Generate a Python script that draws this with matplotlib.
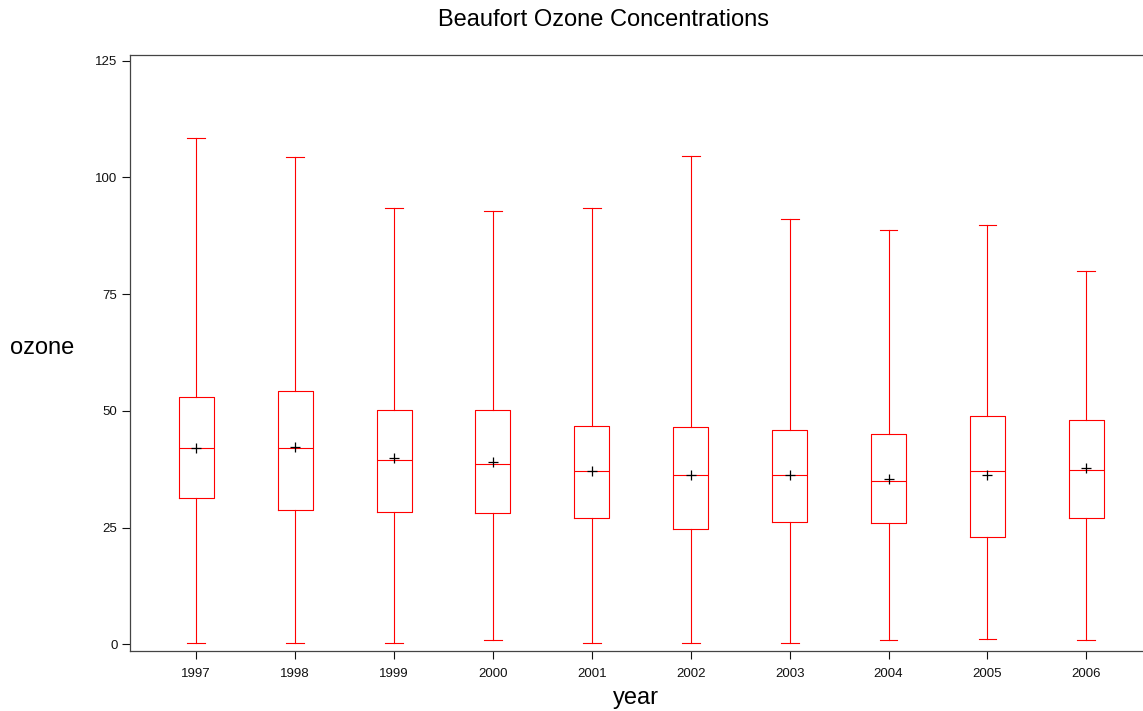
import matplotlib
matplotlib.use('Agg')
import matplotlib.pyplot as plt

plt.rcParams['font.family'] = ['Liberation Sans', 'DejaVu Sans']

# box statistics
years = [1997, 1998, 1999, 2000, 2001, 2002, 2003, 2004, 2005, 2006]
whisker_low = [0.3, 0.3, 0.3, 0.9, 0.3, 0.3, 0.3, 1.0, 1.1, 1.0]
q1 = [31.4, 28.8, 28.3, 28.1, 27.1, 24.6, 26.3, 25.9, 22.9, 27.0]
median = [42.0, 42.0, 39.5, 38.6, 37.1, 36.2, 36.2, 34.9, 37.1, 37.4]
mean = [42.0, 42.2, 39.8, 39.1, 37.1, 36.2, 36.2, 35.3, 36.3, 37.8]
q3 = [52.9, 54.3, 50.1, 50.1, 46.8, 46.5, 45.9, 45.0, 48.8, 48.0]
whisker_high = [108.5, 104.3, 93.4, 92.8, 93.4, 104.6, 91.0, 88.8, 89.8, 80.0]
y_ticks = [0, 25, 50, 75, 100, 125]

stats = []
for i, yr in enumerate(years):
    stats.append({'label': str(yr), 'whislo': whisker_low[i], 'q1': q1[i],
                  'med': median[i], 'mean': mean[i], 'q3': q3[i],
                  'whishi': whisker_high[i], 'fliers': []})

fig = plt.figure(figsize=(11.43, 7.11), dpi=100)
ax = fig.add_axes([130 / 1143, 60 / 711, 1022.6 / 1143, 596 / 711])

red = dict(color='red', linewidth=0.8)
ax.bxp(stats, positions=years, widths=0.354, capwidths=0.18, showmeans=True,
       boxprops=red, whiskerprops=red, capprops=red, medianprops=red,
       meanprops=dict(marker='+', markeredgecolor='black', markersize=7,
                      markeredgewidth=0.9))

ax.set_xlim(1996.33, 2006.67)
ax.set_ylim(-1.43, 126.2)
ax.set_yticks(y_ticks)
ax.set_yticklabels([str(t) for t in y_ticks])
ax.set_xticks(years)
ax.set_xticklabels([str(y) for y in years])
ax.tick_params(axis='both', direction='out', length=6, width=0.8,
               labelsize=9.5, colors='#111111', pad=6)
ax.tick_params(axis='y', length=6, pad=3)
for side in ['left', 'top', 'bottom']:
    ax.spines[side].set_color('#444444')
    ax.spines[side].set_linewidth(0.9)
ax.spines['right'].set_visible(False)

fig.text(604 / 1143, 1 - 20 / 711, 'Beaufort Ozone Concentrations',
         ha='center', va='center', fontsize=17)
fig.text(636 / 1143, 1 - 698 / 711, 'year', ha='center', va='center', fontsize=17)
fig.text(42 / 1143, 1 - 348 / 711, 'ozone', ha='center', va='center', fontsize=17)

fig.savefig('out.png', dpi=100)
